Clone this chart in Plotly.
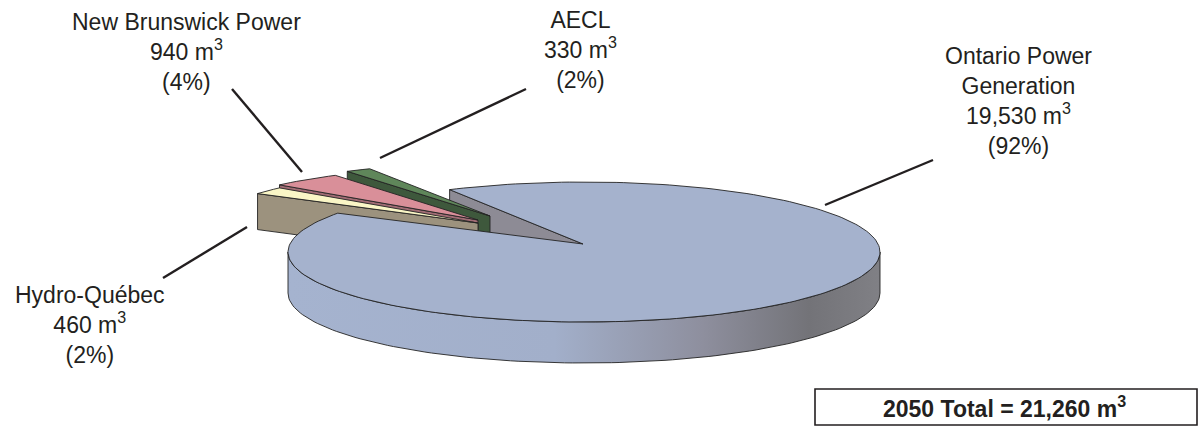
import numpy as np
import plotly.graph_objects as go

# ---------------- data ----------------
categories = ["Ontario Power Generation", "Hydro-Québec", "New Brunswick Power", "AECL"]
values = [19530, 460, 940, 330]          # m3
label_lines = [["Ontario Power", "Generation"], ["Hydro-Québec"], ["New Brunswick Power"], ["AECL"]]
year = 2050

# ---------------- style ----------------
top_colors = ["#A5B2CD", "#FAF6C6", "#D98F99", "#5F865A"]
wall_colors = ["#8D8B95", "#9C927E", "#A06C74", "#3E583C"]
side_scale = [[0.0, "#A5B3CF"], [0.45, "#A2AFCA"], [0.70, "#8E8F9E"],
              [0.88, "#737378"], [1.0, "#808085"]]
# geometry (pixel space): ellipse centre, apex, radii, depth
geom = [
    dict(cx=584, cy=252, ax=583, ay=244, rx=296, ry=70, d=41),   # OPG
    dict(cx=478, cy=223, ax=478, ay=223, rx=265, ry=53, d=36),   # HQ
    dict(cx=478, cy=220, ax=478, ay=220, rx=265, ry=53, d=36),   # NB
    dict(cx=490, cy=216, ax=490, ay=216, rx=265, ry=53, d=36),   # AECL
]
START = 117.0  # first slice edge (math degrees); slices run clockwise
FONT = "Liberation Sans, Arial, sans-serif"
EDGE = dict(color="rgba(35,35,35,0.9)", width=1)

total = sum(values)
spans = [v / total * 360 for v in values]
bounds = []
a = START
for s in spans:
    bounds.append((a - s, a))
    a -= s


def pt(g, ang, dy=0):
    t = np.radians(ang)
    return g["cx"] + g["rx"] * np.cos(t), g["cy"] - g["ry"] * np.sin(t) + dy


def arc(g, a0, a1, dy=0, n=None):
    if n is None:
        n = max(4, int(abs(a1 - a0) / 1.5))
    ang = np.linspace(a0, a1, n)
    xs, ys = zip(*[pt(g, q, dy) for q in ang])
    return list(xs), list(ys)


fig = go.Figure()


def poly(xs, ys, color=None, grad=None):
    kw = dict(x=xs + [xs[0]], y=ys + [ys[0]], mode="lines", fill="toself",
              line=EDGE, hoverinfo="skip", showlegend=False)
    if grad is not None:
        kw["fillgradient"] = dict(type="horizontal", colorscale=grad)
    else:
        kw["fillcolor"] = color
    fig.add_trace(go.Scatter(**kw))


def visible_front(lo, hi):
    # intersect [lo,hi] with front half (sin<0): (180+360k, 360+360k)
    out = []
    for k in range(-2, 2):
        f0, f1 = 180 + 360 * k, 360 + 360 * k
        s, e = max(lo, f0), min(hi, f1)
        if e > s:
            out.append((s, e))
    return out


def draw_outer_side(i):
    g = geom[i]
    lo, hi = bounds[i]
    for s, e in visible_front(lo, hi):
        tx, ty = arc(g, s, e)
        bx, by = arc(g, e, s, dy=g["d"])
        poly(tx + bx, ty + by, grad=side_scale if i == 0 else None,
             color=wall_colors[i])


def draw_walls(i):
    g = geom[i]
    lo, hi = bounds[i]
    d = g["d"]
    if np.cos(np.radians(hi)) < 0:   # face at hi visible
        ox, oy = pt(g, hi)
        poly([g["ax"], ox, ox, g["ax"]], [g["ay"], oy, oy + d, g["ay"] + d], color=wall_colors[i])
    if np.cos(np.radians(lo)) > 0:   # face at lo visible
        ox, oy = pt(g, lo)
        poly([g["ax"], ox, ox, g["ax"]], [g["ay"], oy, oy + d, g["ay"] + d], color=wall_colors[i])


def draw_top(i):
    g = geom[i]
    lo, hi = bounds[i]
    xs, ys = arc(g, lo, hi)
    poly([g["ax"]] + xs, [g["ay"]] + ys, color=top_colors[i])


# OPG side + cut face first, then exploded slices back to front, OPG top last
draw_outer_side(0)
draw_walls(0)
for i in [3, 2, 1]:
    draw_outer_side(i)
    draw_walls(i)
    draw_top(i)
draw_top(0)

# ---------------- labels ----------------
label_pos = [(1018, 101), (90, 325), (186, 52), (580, 50)]
leaders = [((933, 160), (825, 205)), ((163, 278), (247, 227)),
           ((232, 89), (302, 172)), ((526, 89), (380, 158))]
annotations = []
shapes = []
for i, cat in enumerate(categories):
    pct = round(values[i] / total * 100)
    txt = "<br>".join(label_lines[i]) + f"<br>{values[i]:,} m<sup>3</sup><br>({pct}%)"
    annotations.append(dict(x=label_pos[i][0], y=label_pos[i][1], xref="x", yref="y",
                            text=txt, showarrow=False, xanchor="center", yanchor="middle",
                            font=dict(family=FONT, size=23, color="#231F20")))
    (x0, y0), (x1, y1) = leaders[i]
    shapes.append(dict(type="line", xref="x", yref="y", x0=x0, y0=y0, x1=x1, y1=y1,
                       line=dict(color="#231F20", width=2.4)))

shapes.append(dict(type="rect", xref="x", yref="y", x0=815, y0=389, x1=1197, y1=425,
                   line=dict(color="#231F20", width=1.6), fillcolor="white"))
annotations.append(dict(x=1004, y=407, xref="x", yref="y",
                        text=f"<b>{year} Total = {total:,} m<sup>3</sup></b>",
                        showarrow=False, xanchor="center", yanchor="middle",
                        font=dict(family=FONT, size=23, color="#231F20")))

fig.update_layout(
    width=1198, height=427,
    margin=dict(l=0, r=0, t=0, b=0),
    paper_bgcolor="white", plot_bgcolor="white",
    xaxis=dict(range=[0, 1198], visible=False, fixedrange=True),
    yaxis=dict(range=[427, 0], visible=False, fixedrange=True),
    showlegend=False,
    annotations=annotations,
    shapes=shapes,
)
fig.write_html("out.html")
